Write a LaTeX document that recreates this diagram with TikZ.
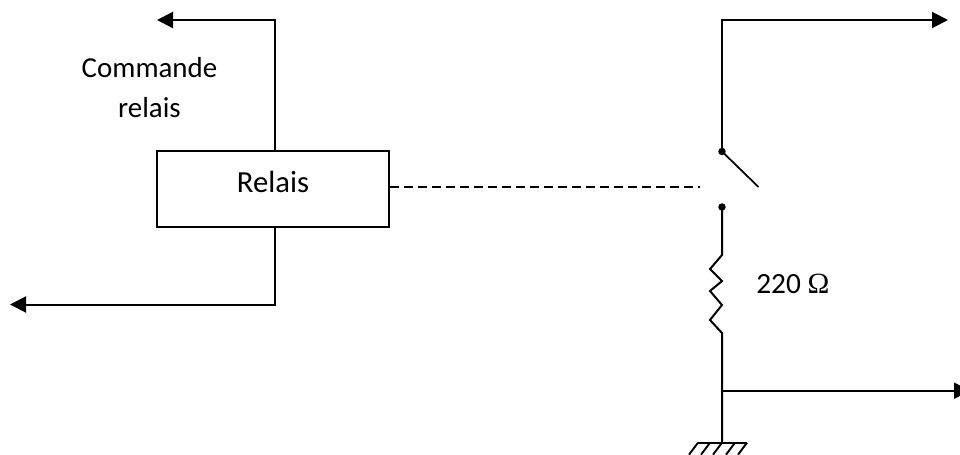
\documentclass[tikz,border=0pt]{standalone}
\usepackage{fontspec}
\setmainfont{Carlito}
\newfontfamily\omegafont{Liberation Serif}
\usetikzlibrary{arrows.meta}
\tikzset{
  wire/.style={draw=black,line width=1.5pt},
  arrowwire/.style={wire,-{Triangle[length=12pt,width=12pt]}},
  relaybox/.style={draw=black,line width=1.5pt,fill=white,minimum width=174pt,minimum height=57pt,inner sep=0pt},
  lbl/.style={inner sep=0pt,align=center,font=\fontsize{21.7pt}{30pt}\selectfont},
  contact/.style={circle,fill=black,inner sep=0pt,minimum size=5.6pt}
}
\begin{document}
\begin{tikzpicture}[x=0.75pt,y=-0.75pt]
\useasboundingbox (0,0) rectangle (960,454);
\fill[white] (0,0) rectangle (960,454);
% relay
\node[relaybox] (relais) at (272.7,189) {};
\node[inner sep=0pt,font=\fontsize{23pt}{28pt}\selectfont,anchor=base] (rl) at (273,192.5) {Relais};
\coordinate (ctop) at (275,20);
\coordinate (ctopend) at (157,20);
\coordinate (cbot) at (275,304.5);
\coordinate (cbotend) at (10,304.5);
\coordinate (rtop) at (275,151);
\coordinate (rbot) at (275,227);
\draw[arrowwire] (rtop) -- (ctop) -- (ctopend);
\draw[arrowwire] (rbot) -- (cbot) -- (cbotend);
\node[lbl] (cmd) at (149.5,87.5) {Commande\\relais};
% switch
\node[contact] (c1) at (722,151.5) {};
\node[contact] (c2) at (722,207) {};
\coordinate (s1) at (722,20);
\coordinate (s1end) at (948,20);
\coordinate (lever) at (758.5,187);
\coordinate (dashend) at (700,187);
\draw[arrowwire] (c1.center) -- (s1) -- (s1end);
\draw[wire,line width=1.3pt] (c1.center) -- (lever);
\draw[draw=black,line width=1.4pt,dash pattern=on 6.6pt off 3.9pt] (relais.east |- 0,187) -- (dashend);
% resistor
\coordinate (g) at (722,442.7);
\coordinate (j) at (722,390.7);
\coordinate (jend) at (970,390.7);
\draw[wire,line join=miter] (c2.center) -- (722,255) -- (710,269) -- (722,281) -- (710,291) -- (722,305) -- (710,320) -- (722,333) -- (j) -- (g);
\draw[arrowwire] (j) -- (jend);
\node[inner sep=0pt,anchor=base west,font=\fontsize{22pt}{26pt}\selectfont] (rv) at (756,293) {220 {\omegafont Ω}};
% ground
\begin{scope}
\clip (680,430) rectangle (760,454);
\draw[wire,line width=1.4pt] (698,442.7) -- (747,442.7);
\foreach \x in {698,710,722,735,747}{
  \draw[wire,line width=1.4pt] (\x,442.7) -- ++(-9,12);
}
\end{scope}
\end{tikzpicture}
\end{document}
